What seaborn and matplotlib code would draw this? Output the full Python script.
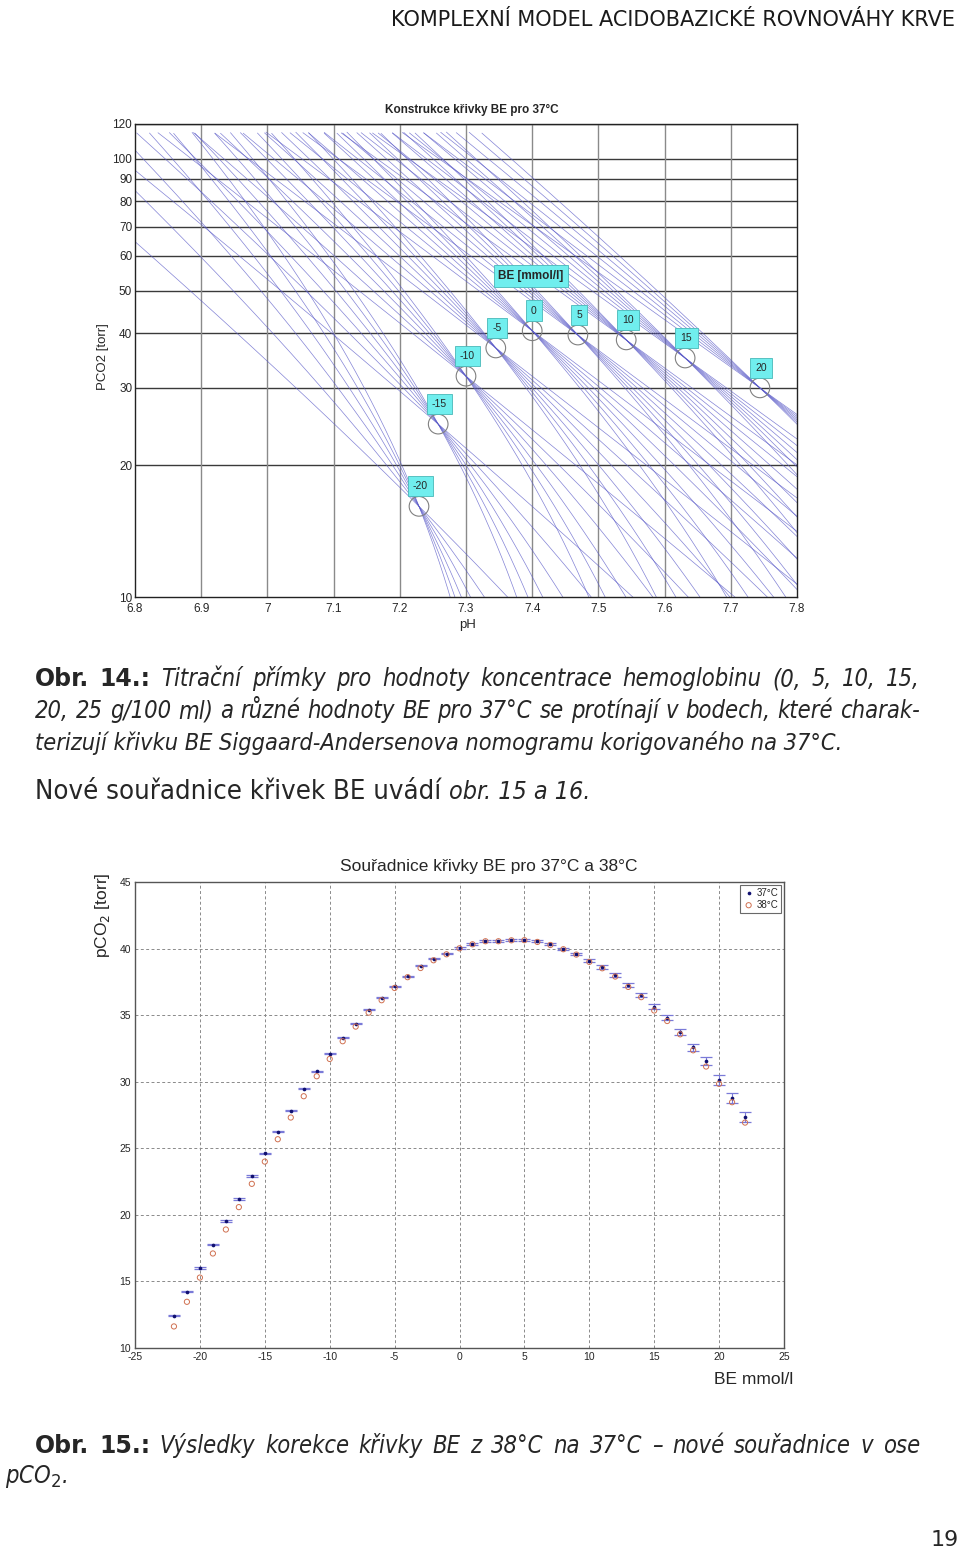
import matplotlib
matplotlib.use("Agg")
import numpy as np
import pandas as pd
import matplotlib.pyplot as plt
import seaborn as sns

#%% Data

# horní graf - body křivky BE (průsečíky titračních přímek)
be_levels = [-20, -15, -10, -5, 0, 5, 10, 15, 20]
be_ph = [7.229, 7.258, 7.300, 7.345, 7.400, 7.469, 7.542, 7.631, 7.744]
be_pco2 = [16.1, 24.8, 31.9, 37.0, 40.5, 39.6, 38.6, 35.1, 30.0]
hb_levels = [0, 5, 10, 15, 20, 25]  # g/100 ml

ph_ticks = [6.8, 6.9, 7.0, 7.1, 7.2, 7.3, 7.4, 7.5, 7.6, 7.7, 7.8]
ph_ticklabels = ["6.8", "6.9", "7", "7.1", "7.2", "7.3", "7.4", "7.5", "7.6", "7.7", "7.8"]
pco2_ticks = [10, 20, 30, 40, 50, 60, 70, 80, 90, 100, 120]

# dolní graf - souřadnice křivky BE pro 37 a 38 °C
be_axis = list(range(-22, 23))
pco2_37 = [12.44, 14.24, 16.0, 17.77, 19.53, 21.2, 22.93, 24.63,
           26.25, 27.83, 29.49, 30.79, 32.11, 33.31, 34.36, 35.41, 36.32, 37.17, 37.92, 38.72, 39.24, 39.62,
           40.05, 40.32, 40.57,
           40.57, 40.65, 40.67, 40.55, 40.32, 40.0, 39.62, 39.09, 38.62, 38.02, 37.27, 36.52, 35.62, 34.81,
           33.74, 32.59, 31.59, 30.14, 28.76, 27.38]
pco2_38 = [11.62, 13.47, 15.29, 17.1, 18.9, 20.58, 22.33, 24.0,
           25.68, 27.31, 28.91, 30.41, 31.71, 33.04, 34.14, 35.19, 36.12, 37.04, 37.85, 38.54, 39.12, 39.57,
           40.02, 40.32, 40.55,
           40.55, 40.62, 40.63, 40.5, 40.27, 39.95, 39.55, 39.0, 38.52, 37.9, 37.12, 36.35, 35.35, 34.56,
           33.56, 32.36, 31.14, 29.84, 28.46, 26.93]
err_37 = [0.05, 0.05, 0.05, 0.05, 0.05, 0.05, 0.05, 0.05,
          0.05, 0.05, 0.05, 0.05, 0.05, 0.05, 0.05, 0.05, 0.05, 0.05, 0.05, 0.05, 0.05, 0.05,
          0.08, 0.08, 0.08,
          0.08, 0.08, 0.08, 0.08, 0.08, 0.08, 0.08, 0.12, 0.12, 0.12, 0.12, 0.12, 0.18, 0.2,
          0.25, 0.25, 0.3, 0.35, 0.38, 0.38]

#%% Styl

sns.set_style("white")
plt.rcParams["font.family"] = ["Liberation Sans", "DejaVu Sans"]
plt.rcParams["axes.unicode_minus"] = False

W, H = 960, 1548
fig = plt.figure(figsize=(W / 100, H / 100), dpi=100)


def fx(px):
    return px / W


def fy(py):
    return 1 - py / H


def titracni_primka(ph0, p0, hb, ph):
    # Van Slyke: HCO3 klesá podél přímky podle pufrační kapacity krve
    hco3_0 = 0.0307 * p0 * 10 ** (ph0 - 6.1)
    hco3 = hco3_0 - (1.43 * hb + 7.7) * (ph - ph0)
    return hco3 / (0.0307 * 10 ** (ph - 6.1))


#%% Horní graf

ph_grid = np.linspace(6.5, 8.0, 700)
frames = []
for be, ph0, p0 in zip(be_levels, be_ph, be_pco2):
    for hb in hb_levels:
        p = titracni_primka(ph0, p0, hb, ph_grid)
        ok = (p > 5) & (p <= 115)
        frames.append(pd.DataFrame({"pH": ph_grid[ok], "pCO2": p[ok], "line": f"{be}_{hb}"}))
df_lines = pd.concat(frames, ignore_index=True)

ax1 = fig.add_axes([fx(135), fy(597), fx(662), 473 / H])
sns.lineplot(data=df_lines, x="pH", y="pCO2", units="line", estimator=None, sort=False,
             color="#5a5ac8", lw=0.5, alpha=0.75, legend=False, ax=ax1)
ax1.set_yscale("log")
ax1.set_xlim(6.8, 7.8)
ax1.set_ylim(10, 120)
ax1.set_xticks(ph_ticks)
ax1.set_xticklabels(ph_ticklabels)
ax1.set_yticks(pco2_ticks)
ax1.set_yticklabels([str(v) for v in pco2_ticks])
ax1.minorticks_off()
ax1.tick_params(axis="y", labelsize=8.5, length=0, pad=2)
ax1.tick_params(axis="x", labelsize=8.5, length=0, pad=4)
for v in pco2_ticks[1:]:
    ax1.axhline(v, color="#3a3a3a", lw=1.0, zorder=0)
for v in ph_ticks[1:-1]:
    ax1.axvline(v, color="#8a8a8a", lw=1.0, zorder=0)
for s in ax1.spines.values():
    s.set_color("#222222")
    s.set_linewidth(1.0)
ax1.set_xlabel("")
ax1.set_ylabel("")

ax1.scatter(be_ph, be_pco2, s=200, facecolors="none", edgecolors="#808080", linewidths=0.8, zorder=4)
for be, ph0, p0 in zip(be_levels, be_ph, be_pco2):
    ax1.annotate(str(be), (ph0, p0), xytext=(1, 14.5), textcoords="offset points",
                 ha="center", va="center", fontsize=7.5, zorder=5,
                 bbox=dict(boxstyle="square,pad=0.5", fc="#70eeee", ec="#48b8b8", lw=0.6))
ax1.text(7.398, 54.0, "BE [mmol/l]", ha="center", va="center", fontsize=8.5, fontweight="bold",
         zorder=5, bbox=dict(boxstyle="square,pad=0.4", fc="#70eeee", ec="#48b8b8", lw=0.6))

fig.text(fx(472), fy(110), "Konstrukce křivky BE pro 37°C", ha="center", va="center",
         fontsize=8.5, fontweight="bold")
fig.text(fx(103), fy(357), "PCO2 [torr]", rotation=90, ha="center", va="center", fontsize=9.5)
fig.text(fx(468), fy(625), "pH", ha="center", va="center", fontsize=9.5)

#%% Dolní graf

ax2 = fig.add_axes([fx(135), fy(1348), fx(649), 466 / H])
ax2.errorbar(be_axis, pco2_37, yerr=err_37, fmt="none", ecolor="#7a7ad8", elinewidth=0.8,
             capsize=4.3, capthick=0.9, zorder=3)
sns.scatterplot(x=be_axis, y=pco2_37, marker="o", s=7, color="#101070", linewidth=0,
                label="37°C", ax=ax2, zorder=4)
sns.scatterplot(x=be_axis, y=pco2_38, marker="o", s=14, color="#d07050", linewidth=0.7,
                label="38°C", ax=ax2, zorder=4)
sc38 = ax2.collections[-1]
sc38.set_facecolor("none")
sc38.set_edgecolor("#d07050")
ax2.set_xlim(-25, 25)
ax2.set_ylim(10, 45)
ax2.set_xticks(range(-25, 26, 5))
ax2.set_yticks(range(10, 46, 5))
ax2.grid(True, ls=(0, (3, 2.5)), color="#8a8a8a", lw=0.7)
ax2.tick_params(labelsize=7.5, direction="in", length=3, pad=3)
for s in ax2.spines.values():
    s.set_color("#555555")
    s.set_linewidth(1.0)
leg = ax2.legend(loc="upper right", fontsize=7, frameon=True, fancybox=False,
                 borderpad=0.3, handletextpad=0.2, labelspacing=0.2, handlelength=1.2,
                 borderaxespad=0.3)
leg.get_frame().set_edgecolor("#444444")
leg.get_frame().set_linewidth(0.8)

fig.text(fx(489), fy(866), "Souřadnice křivky BE pro 37°C a 38°C", ha="center", va="center", fontsize=12.5)
fig.text(fx(103), fy(915), "pCO$_2$ [torr]", rotation=90, ha="center", va="center", fontsize=12.5)
fig.text(fx(754), fy(1380), "BE mmol/l", ha="center", va="center", fontsize=12.5)

#%% Texty stránky

renderer = fig.canvas.get_renderer()
bold = dict(fontsize=17, fontweight="bold", fontstretch="normal")
it = dict(fontsize=17, style="italic", fontstretch="condensed")


def sirka(txt, kw):
    t = fig.text(0, 0, txt, family=["DejaVu Sans"], **kw)
    w = t.get_window_extent(renderer).width
    t.remove()
    return w


def radek(py, segmenty, x0=35):
    x = fx(x0)
    for txt, kw in segmenty:
        t = fig.text(x, fy(py), txt, va="baseline", ha="left", family=["DejaVu Sans"], **kw)
        x = t.get_window_extent(renderer).x1 / W


def radek_zarovnany(py, segmenty, x0=35, x1=920):
    # do bloku - rozdělit mezery mezi slova
    slova = [(w, kw) for txt, kw in segmenty for w in txt.split()]
    sirky = [sirka(w, kw) for w, kw in slova]
    mezera = (x1 - x0 - sum(sirky)) / (len(slova) - 1)
    x = x0
    for (w, kw), sw in zip(slova, sirky):
        fig.text(fx(x), fy(py), w, va="baseline", ha="left", family=["DejaVu Sans"], **kw)
        x += sw + mezera


fig.text(fx(955), fy(20), "KOMPLEXNÍ MODEL ACIDOBAZICKÉ ROVNOVÁHY KRVE", ha="right", va="center",
         fontsize=15, color="#1a1a1a", family=["DejaVu Sans"])

radek_zarovnany(686, [("Obr. 14.:", bold),
                      ("Titrační přímky pro hodnoty koncentrace hemoglobinu (0, 5, 10, 15,", it)])
radek_zarovnany(718, [("20, 25 g/100 ml) a různé hodnoty BE pro 37°C se protínají v bodech, které charak-", it)])
radek(750, [("terizují křivku BE Siggaard-Andersenova nomogramu korigovaného na 37°C.",
             dict(fontsize=16.8, style="italic", fontstretch="condensed"))])
radek(799, [("Nové souřadnice křivek BE uvádí ", dict(fontsize=19.7, fontstretch="condensed")),
            ("obr. 15 a 16.", dict(fontsize=18, style="italic", fontstretch="condensed"))])

radek_zarovnany(1453, [("Obr. 15.:", bold),
                       ("Výsledky korekce křivky BE z 38°C na 37°C – nové souřadnice v ose", it)])
radek(1483, [("pCO$_2$.", it)], x0=5)

fig.text(fx(945), fy(1540), "19", ha="center", va="center", fontsize=16, family=["DejaVu Sans"])

fig.savefig("out.png", dpi=100)
